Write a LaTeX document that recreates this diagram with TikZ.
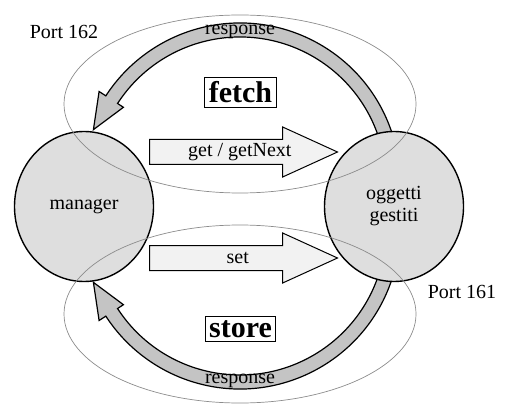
\documentclass[tikz,border=0pt]{standalone}
\usepackage{fontspec}
\setmainfont{Liberation Serif}
\usetikzlibrary{shapes.geometric, shapes.arrows}
\definecolor{discfill}{HTML}{DEDEDE}
\definecolor{bandfill}{HTML}{C4C4C4}
\definecolor{pushfill}{HTML}{F2F2F2}
\definecolor{portline}{HTML}{8C8C8C}

\begin{document}
\begin{tikzpicture}[x=0.5pt, y=0.5pt,
    every node/.style={font=\fontsize{10}{12}\selectfont},
    agent/.style={draw, ellipse, fill=discfill, line width=0.7pt, minimum width=69.5pt, minimum height=75pt, align=center, inner sep=0pt, font=\fontsize{10}{11}\selectfont},
    push/.style={draw, single arrow, fill=pushfill, line width=0.5pt, minimum height=94pt, single arrow head extend=6.25pt, single arrow tip angle=49, text height=7pt, text depth=2pt, inner ysep=1.5pt, anchor=tail},
    band/.style={draw, fill=bandfill, line width=0.6pt},
    port/.style={draw=portline, line width=0.35pt},
    op/.style={draw, line width=0.5pt, font=\fontsize{15}{18}\selectfont\bfseries, inner sep=2pt}]
  \useasboundingbox (0,0) rectangle (506,412);
  \coordinate (fc) at (240,229);
  \coordinate (sc) at (240,183);
  \draw [band] ([shift={(fc)}]18:160) arc [start angle=18, end angle=147, radius=160]
    -- ([shift={(fc)}]147:168) -- ([shift={(fc)}]160:156) -- ([shift={(fc)}]147:139)
    -- ([shift={(fc)}]147:146) arc [start angle=147, end angle=18, radius=146] -- cycle;
  \draw [band] ([shift={(sc)}]-18:160) arc [start angle=-18, end angle=-147, radius=160]
    -- ([shift={(sc)}]-147:168) -- ([shift={(sc)}]-160:156) -- ([shift={(sc)}]-147:139)
    -- ([shift={(sc)}]-147:146) arc [start angle=-147, end angle=-18, radius=146] -- cycle;
  \node [agent] (man) at (84,205.5) {manager};
  \node [agent] (obj) at (394,205.5) {oggetti\\gestiti};
  \draw [port] (240,308) ellipse [x radius=176, y radius=89];
  \draw [port] (240,98) ellipse [x radius=176, y radius=89];
  \node [push] (get) at (149,260) {\hspace*{10pt}get / getNext};
  \node [push] (set) at (149,154) {\hspace*{8pt}set};
  \node [op] (fetch) at (240.5,319.5) {fetch};
  \node [op] (store) at (240.5,83) {store};
  \node (resp1) at (240,380) {response};
  \node (resp2) at (240,31) {response};
  \node (p162) at (64,380) {Port 162};
  \node (p161) at (462,120) {Port 161};
\end{tikzpicture}
\end{document}
